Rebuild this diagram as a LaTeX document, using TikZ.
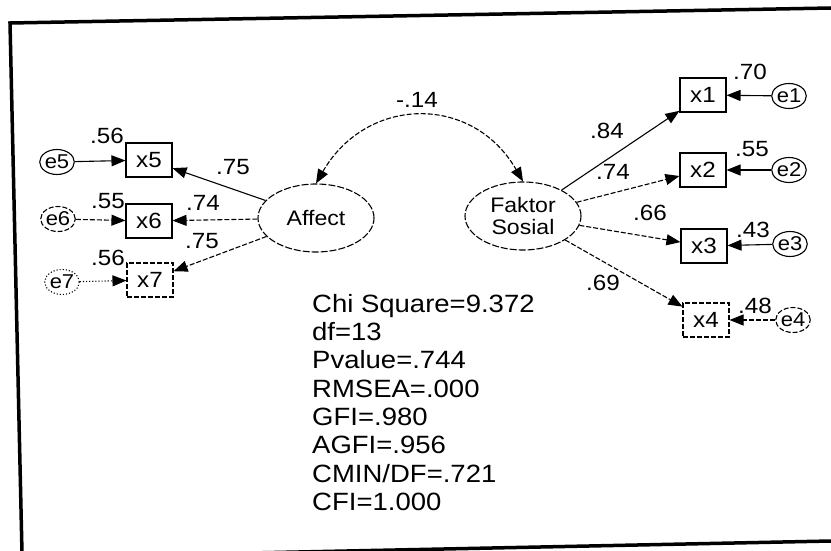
\documentclass[tikz,border=0pt]{standalone}
\usepackage{fontspec}
\setmainfont{Liberation Sans}[FakeStretch=1.1]
\usetikzlibrary{shapes.geometric,arrows.meta}

\begin{document}
\begin{tikzpicture}[
    x=1pt, y=-1pt,
    obs/.style = {
        draw=black, line width=1.1pt, minimum width=46pt, minimum height=34pt,
        inner sep=0pt, font=\fontsize{22}{24}\selectfont
    },
    err/.style = {
        draw=black, ellipse, line width=1.1pt, minimum width=34pt, minimum height=25pt,
        inner sep=0pt, font=\fontsize{20}{22}\selectfont
    },
    lat/.style = {
        draw=black, ellipse, line width=1.1pt, dash pattern=on 7pt off 2pt,
        minimum width=116pt, minimum height=68pt, inner sep=1pt, align=center,
        font=\fontsize{21}{22}\selectfont
    },
    lbl/.style = {anchor=base, inner sep=0pt, font=\fontsize{22}{24}\selectfont},
    link/.style = {line width=1.1pt, -{Triangle[length=14pt,width=11pt]}},
    both/.style = {line width=1.1pt, {Triangle[length=14pt,width=11pt]}-{Triangle[length=14pt,width=11pt]}},
    faded/.style = {dash pattern=on 5pt off 2pt}
]
    \useasboundingbox (0,0) rectangle (831,551);

    % Frame
    \draw[line width=3.5pt] (22,553) -- (10,23) -- (831,8);
    \draw[line width=3.5pt] (250,553) -- (831,541);

    % Nodes
    \node[lat] (Affect) at (316,218) {Affect};
    \node[lat] (FS) at (523,216) {Faktor\\Sosial};

    \node[obs] (x5) at (149,160) {x5};
    \node[obs] (x6) at (149,221) {x6};
    \node[obs, faded] (x7) at (150,280) {x7};
    \node[err] (e5) at (57,162) {e5};
    \node[err, faded] (e6) at (58,219) {e6};
    \node[err, dotted] (e7) at (62,282) {e7};

    \node[obs] (x1) at (703,95) {x1};
    \node[obs] (x2) at (703,170) {x2};
    \node[obs] (x3) at (704,246) {x3};
    \node[obs, faded] (x4) at (706,320) {x4};
    \node[err] (e1) at (789,96) {e1};
    \node[err] (e2) at (789,170) {e2};
    \node[err] (e3) at (790,244) {e3};
    \node[err, faded] (e4) at (793,320) {e4};

    % Connectors
    \draw[both, faded] (Affect.north) to[out=60, in=120, looseness=1.25] (FS.north);

    \draw[link] (Affect) -- (x5);
    \draw[link, faded] (Affect) -- (x6);
    \draw[link, faded] (Affect) -- (x7);
    \draw[link] (e5) -- (x5);
    \draw[link, faded] (e6) -- (x6);
    \draw[link, dotted] (e7) -- (x7);

    \draw[link] (FS) -- (x1);
    \draw[link, faded] (FS) -- (x2);
    \draw[link, faded] (FS) -- (x3);
    \draw[link, faded] (FS) -- (x4);
    \draw[link] (e1) -- (x1);
    \draw[link] (e2) -- (x2);
    \draw[link] (e3) -- (x3);
    \draw[link, faded] (e4) -- (x4);

    % Labels
    \node[lbl] (lc) at (417,108) {-.14};
    \node[lbl] (l5) at (107,143) {.56};
    \node[lbl] (l6) at (108,208) {.55};
    \node[lbl] (l7) at (108,265) {.56};
    \node[lbl] (a5) at (233,174) {.75};
    \node[lbl] (a6) at (203,210) {.74};
    \node[lbl] (a7) at (202,248) {.75};
    \node[lbl] (l1) at (750,80) {.70};
    \node[lbl] (l2) at (752,157) {.55};
    \node[lbl] (l3) at (753,237) {.43};
    \node[lbl] (l4) at (755,313) {.48};
    \node[lbl] (f1) at (607,139) {.84};
    \node[lbl] (f2) at (613,179) {.74};
    \node[lbl] (f3) at (650,220) {.66};
    \node[lbl] (f4) at (603,290) {.69};

    % Fit statistics
    \node[anchor=north west, inner sep=0pt, align=left, font=\fontsize{25}{28.3}\selectfont] (fit) at (312,294)
        {Chi Square=9.372\\df=13\\Pvalue=.744\\RMSEA=.000\\GFI=.980\\AGFI=.956\\CMIN/DF=.721\\CFI=1.000};
\end{tikzpicture}
\end{document}
